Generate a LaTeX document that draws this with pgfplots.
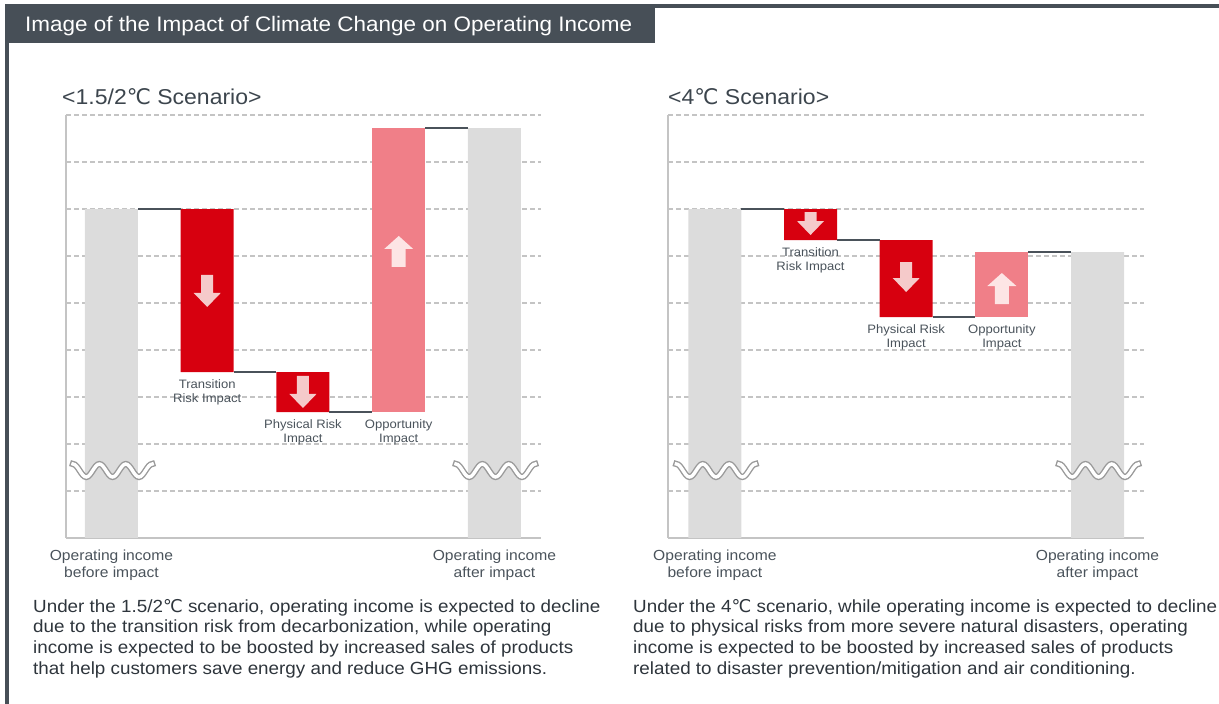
\documentclass[border=0pt]{standalone}
\usepackage{pgfplots}
\usepackage{pgfplotstable}
\pgfplotsset{compat=1.18}
\usepackage{fontspec}
\setmainfont[FakeStretch=1.07]{Liberation Sans}
\newfontfamily\dejavu{DejaVu Sans}
\newcommand{\dC}{{\dejavu ℃}}

\definecolor{titlebg}{HTML}{474F57}
\definecolor{barGray}{HTML}{DCDCDC}
\definecolor{barRed}{HTML}{D7000F}
\definecolor{barPink}{HTML}{F07F88}
\definecolor{arrRed}{HTML}{F5CACA}
\definecolor{arrPink}{HTML}{FDE5E5}
\definecolor{conn}{HTML}{4A525A}
\definecolor{gridc}{HTML}{C4C4C4}
\definecolor{axisc}{HTML}{C4C4C4}
\definecolor{txt}{HTML}{4A535B}
\definecolor{scen}{HTML}{3C454D}
\definecolor{body}{HTML}{2E353C}
\definecolor{waveg}{HTML}{9A9A9A}

\pgfplotstableread{
x base gray red pink
0 0    7    0    0
1 3.53 0    3.47 0
2 2.68 0    0.85 0
3 2.68 0    0    6.04
4 0    8.72 0    0
}\dataA
\pgfplotstableread{
x base gray red pink
0 0    7    0    0
1 6.34 0    0.66 0
2 4.70 0    1.64 0
3 4.70 0    0    1.38
4 0    6.08 0    0
}\dataB

\newcommand{\lblfont}{\fontsize{12.2}{14.5}\selectfont}

\newcommand{\wave}[2]{%
  \draw[draw=waveg, line width=1.4pt, double=white, double distance=3.4pt, line cap=rect,
        shift={(axis cs:#1,#2)}, xshift=-38.5pt]
    (0pt,6.5pt) cos ++(6.6pt,-6.5pt) sin ++(6.6pt,-6.5pt) cos ++(6.6pt,6.5pt) sin ++(6.6pt,6.5pt)
    cos ++(6.6pt,-6.5pt) sin ++(6.6pt,-6.5pt) cos ++(6.6pt,6.5pt) sin ++(6.6pt,6.5pt)
    cos ++(6.6pt,-6.5pt) sin ++(6.6pt,-6.5pt) cos ++(6.6pt,6.5pt) sin ++(6.6pt,6.5pt);}

\newcommand{\darrow}[4]{%
  \fill[#1, shift={(axis cs:#2,#3)}] (-6pt,0pt) -- ++(12pt,0pt) -- ++(0pt,-#4pt) -- ++(7.5pt,0pt)
    -- ++(-13.5pt,-14pt) -- ++(-13.5pt,14pt) -- ++(7.5pt,0pt) -- cycle;}
\newcommand{\uarrow}[3]{%
  \fill[#1, shift={(axis cs:#2,#3)}] (0pt,0pt) -- ++(14.5pt,-13pt) -- ++(-7.5pt,0pt) -- ++(0pt,-18pt)
    -- ++(-14pt,0pt) -- ++(0pt,18pt) -- ++(-7.5pt,0pt) -- cycle;}
\newcommand{\blabel}[3]{%
  \node[anchor=north, align=center, inner sep=0pt, font=\lblfont, text=txt, yshift=-7pt]
    at (axis cs:#1,#2) {#3};}

\pgfplotsset{
  wfbase/.style={scale only axis, height=423pt, anchor=south west, ymin=0, ymax=9, clip=false},
  wfbars/.style={wfbase,
    axis lines=left, axis line style={draw=axisc, line width=2.5pt, -},
    ytick={1,2,...,9}, yticklabels={}, ymajorgrids,
    grid style={draw=gridc, line width=1.5pt, dash pattern=on 5pt off 3pt},
    major tick length=0pt, xtick style={draw=none}, ytick style={draw=none},
    xtick={0,4},
    xticklabels={{Operating income\\before impact},{Operating income\\after impact}},
    xticklabel style={align=center, font=\fontsize{14.6}{17}\selectfont, text=txt, inner sep=0pt, yshift=-12pt},
    ybar stacked, bar width=53pt},
  wfover/.style={wfbase, hide axis},
}

\begin{document}
\begin{tikzpicture}
\useasboundingbox (0,0) rectangle (1219pt,704pt);
% frame and title
\fill[titlebg] (5pt,0pt) rectangle (8.5pt,700pt);
\fill[titlebg] (5pt,696pt) rectangle (1219pt,700pt);
\fill[titlebg] (5pt,661pt) rectangle (655pt,700pt);
\node[anchor=west, text=white, font=\fontsize{21}{24}\selectfont, inner sep=0pt] at (25pt,678pt)
  {Image of the Impact of Climate Change on Operating Income};
% scenario titles
\node[anchor=west, inner sep=0pt, text=scen, font=\fontsize{21.5}{24}\selectfont] at (62pt,607pt)
  {<1.5/2\dC\ Scenario>};
\node[anchor=west, inner sep=0pt, text=scen, font=\fontsize{21.5}{24}\selectfont] at (668pt,607pt)
  {<4\dC\ Scenario>};

% ---------------- left chart ----------------
\begin{axis}[wfbars, at={(66pt,166pt)}, width=475pt, xmin=-0.475, xmax=4.486]
\addplot[draw=none, fill=none] table[x=x, y=base] {\dataA};
\addplot[draw=none, fill=barGray] table[x=x, y=gray] {\dataA};
\addplot[draw=none, fill=barRed] table[x=x, y=red] {\dataA};
\addplot[draw=none, fill=barPink] table[x=x, y=pink] {\dataA};
\end{axis}
\begin{axis}[wfover, at={(66pt,166pt)}, width=475pt, xmin=-0.475, xmax=4.486]
\addplot[conn, line width=1.6pt] coordinates {(0.277,7) (0.723,7)};
\addplot[conn, line width=1.6pt] coordinates {(1.277,3.53) (1.723,3.53)};
\addplot[conn, line width=1.6pt] coordinates {(2.277,2.68) (2.723,2.68)};
\addplot[conn, line width=1.6pt] coordinates {(3.277,8.72) (3.723,8.72)};
\darrow{arrRed}{1}{5.596}{18}
\darrow{arrRed}{2}{3.447}{18}
\uarrow{arrPink}{3}{6.426}
\wave{0}{1.436}
\wave{4}{1.436}
\blabel{1}{3.53}{Transition\\Risk Impact}
\blabel{2}{2.68}{Physical Risk\\Impact}
\blabel{3}{2.68}{Opportunity\\Impact}
\end{axis}

% ---------------- right chart ----------------
\begin{axis}[wfbars, at={(668pt,166pt)}, width=476pt, xmin=-0.49, xmax=4.486]
\addplot[draw=none, fill=none] table[x=x, y=base] {\dataB};
\addplot[draw=none, fill=barGray] table[x=x, y=gray] {\dataB};
\addplot[draw=none, fill=barRed] table[x=x, y=red] {\dataB};
\addplot[draw=none, fill=barPink] table[x=x, y=pink] {\dataB};
\end{axis}
\begin{axis}[wfover, at={(668pt,166pt)}, width=476pt, xmin=-0.49, xmax=4.486]
\addplot[conn, line width=1.6pt] coordinates {(0.277,7) (0.723,7)};
\addplot[conn, line width=1.6pt] coordinates {(1.277,6.34) (1.723,6.34)};
\addplot[conn, line width=1.6pt] coordinates {(2.277,4.70) (2.723,4.70)};
\addplot[conn, line width=1.6pt] coordinates {(3.277,6.08) (3.723,6.08)};
\darrow{arrRed}{1}{6.936}{9}
\darrow{arrRed}{2}{5.872}{16}
\uarrow{arrPink}{3}{5.638}
\wave{0}{1.436}
\wave{4}{1.436}
\blabel{1}{6.34}{Transition\\Risk Impact}
\blabel{2}{4.70}{Physical Risk\\Impact}
\blabel{3}{4.70}{Opportunity\\Impact}
\end{axis}

% descriptions
\node[anchor=north west, align=left, inner sep=0pt, font=\fontsize{17.6}{20.6}\selectfont, text=body] at (33pt,105pt)
  {Under the 1.5/2\dC\ scenario, operating income is expected to decline\\
   due to the transition risk from decarbonization, while operating\\
   income is expected to be boosted by increased sales of products\\
   that help customers save energy and reduce GHG emissions.};
\node[anchor=north west, align=left, inner sep=0pt, font=\fontsize{17.6}{20.6}\selectfont, text=body] at (633pt,105pt)
  {Under the 4\dC\ scenario, while operating income is expected to decline\\
   due to physical risks from more severe natural disasters, operating\\
   income is expected to be boosted by increased sales of products\\
   related to disaster prevention/mitigation and air conditioning.};
\end{tikzpicture}
\end{document}
